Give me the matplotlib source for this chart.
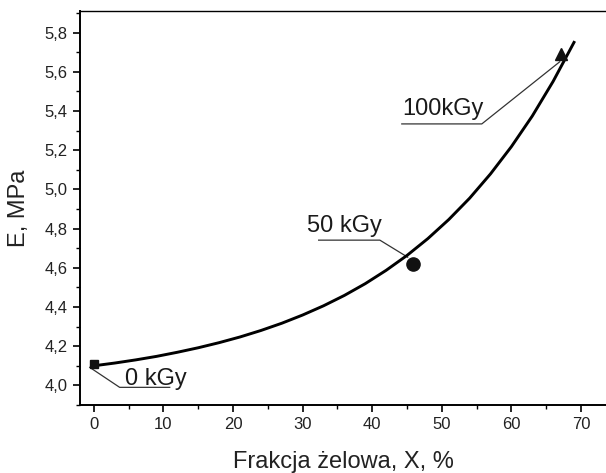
import matplotlib
matplotlib.use('Agg')
import matplotlib.pyplot as plt
from matplotlib.ticker import MultipleLocator, FuncFormatter

plt.rcParams['font.family'] = ['Liberation Sans', 'DejaVu Sans']

# measured points
dose_labels = ['0 kGy', '50 kGy', '100kGy']
gel_x = [0, 45.8, 67.1]
modulus_y = [4.11, 4.62, 5.69]
markers = ['s', 'o', '^']
marker_sizes = [6, 9.5, 8.5]

# fitted curve
curve_x = [0, 3, 6, 9, 12, 15, 18, 21, 24, 27, 30, 33, 36, 39, 42, 45,
           48, 51, 54, 57, 60, 63, 66, 69]
curve_y = [4.100, 4.114, 4.130, 4.148, 4.169, 4.192, 4.218, 4.247, 4.280,
           4.317, 4.359, 4.406, 4.459, 4.519, 4.587, 4.663, 4.749, 4.846,
           4.955, 5.079, 5.218, 5.374, 5.551, 5.750]

# label leader lines: (text pos, path)
label_pos = [(4.45, 4.0), (30.6, 4.782), (44.3, 5.38)]
leader_x = [[-0.6, 3.7, 10.9], [32.3, 41.1, 45.1], [44.25, 55.75, 66.95]]
leader_y = [[4.092, 3.99, 3.99], [4.741, 4.741, 4.654], [5.334, 5.334, 5.651]]

fig = plt.figure(figsize=(6.06, 4.73), dpi=100)
ax = fig.add_axes([0.132, 0.1438, 0.868, 0.8329])

ax.plot(curve_x, curve_y, color='black', lw=2.1, zorder=3)
for x, y, m, s in zip(gel_x, modulus_y, markers, marker_sizes):
    ax.plot([x], [y], marker=m, ms=s, color='#111111', ls='none', zorder=4)

for (tx, ty), lx, ly, lab in zip(label_pos, leader_x, leader_y, dose_labels):
    ax.plot(lx, ly, color='#333333', lw=0.9, zorder=2)
    ax.text(tx, ty, lab, fontsize=17, va='baseline', ha='left', color='#1a1a1a')

ax.set_xlim(-2, 73.6)
ax.set_ylim(3.9, 5.91)

ax.xaxis.set_major_locator(MultipleLocator(10))
ax.xaxis.set_minor_locator(MultipleLocator(5))
ax.yaxis.set_major_locator(MultipleLocator(0.2))
ax.yaxis.set_minor_locator(MultipleLocator(0.1))
ax.yaxis.set_major_formatter(FuncFormatter(lambda v, p: ('%.1f' % v).replace('.', ',')))

ax.spines['right'].set_visible(False)
ax.spines['top'].set_linewidth(1.0)
ax.spines['left'].set_linewidth(1.4)
ax.spines['bottom'].set_linewidth(1.4)
ax.tick_params(which='major', direction='out', length=5, width=1.2,
               labelsize=12, pad=4, top=False, right=False, labelcolor='#222222')
ax.tick_params(which='minor', direction='out', length=3, width=1.0,
               top=False, right=False)

ax.set_xlabel('Frakcja żelowa, X, %', fontsize=17, labelpad=13, color='#222222')
ax.set_ylabel('E, MPa', fontsize=17, labelpad=10, color='#222222')

fig.savefig('out.png', dpi=100)
